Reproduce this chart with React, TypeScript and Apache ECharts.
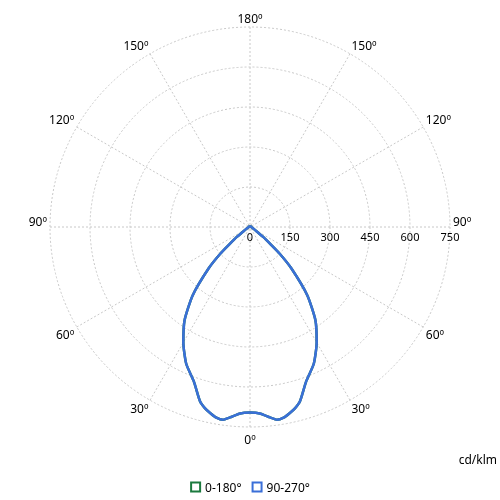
import { useEffect, useRef } from 'react'
import * as echarts from 'echarts'

// photometric angles (deg from nadir) and intensities (cd/klm)
const gammaAngles = [0, 3, 6, 8, 10, 12, 14, 16, 20, 25, 30, 35, 40, 45, 48, 50, 53, 55, 60, 65, 70, 80, 90, 120, 150, 180]
const plane0_180 = [696, 700, 718, 730, 726, 714, 700, 680, 616, 566, 500, 428, 334, 219, 150, 100, 62, 38, 20, 13, 9, 6, 5, 4, 3, 3]
const plane90_270 = [696, 700, 718, 730, 726, 714, 700, 680, 616, 566, 500, 428, 334, 219, 150, 100, 62, 38, 20, 13, 9, 6, 5, 4, 3, 3]
const seriesNames = ['0-180°', '90-270°']
const seriesColors = ['#1b7a3e', '#3a6fd8']
const radiusTicks = [0, 150, 300, 450, 600, 750]

// left half goes 180 -> 0, right half 0 -> 180
const toPolar = (values: number[]): number[][] => {
  const left = gammaAngles.map((g, i) => [values[i], 270 - g]).reverse()
  const right = gammaAngles.map((g, i) => [values[i], (g - 90 + 360) % 360])
  return [...left, ...right.slice(1)]
}

const App: React.FC = () => {
  const chartRef = useRef<HTMLDivElement>(null)

  useEffect(() => {
    if (chartRef.current === null) return
    const chart = echarts.init(chartRef.current, undefined, { renderer: 'svg' })
    const font = 'Noto Sans'
    chart.setOption({
      animation: false,
      textStyle: { fontFamily: font },
      polar: { center: ['50%', 227], radius: 200 },
      angleAxis: {
        type: 'value',
        min: 0,
        max: 360,
        interval: 30,
        startAngle: 0,
        clockwise: false,
        axisLine: { show: false },
        axisTick: { show: false },
        axisLabel: {
          color: '#000',
          fontSize: 12,
          margin: 3,
          fontFamily: font,
          formatter: (v: number) => {
            const p = (v + 90) % 360
            const d = p <= 180 ? p : 360 - p
            if (d === 90) return '{side|' + d + 'º}'
            if (d === 0) return '{low|' + d + 'º}'
            return d + 'º'
          },
          rich: {
            side: { fontSize: 12, fontFamily: font, color: '#000', padding: [0, 0, 11, 0] },
            low: { fontSize: 12, fontFamily: font, color: '#000', padding: [3, 0, 0, 0] }
          }
        },
        splitLine: { lineStyle: { color: '#c8c8c8', type: [2, 2], width: 1 } }
      },
      radiusAxis: {
        type: 'value',
        min: radiusTicks[0],
        max: radiusTicks[radiusTicks.length - 1],
        interval: radiusTicks[1] - radiusTicks[0],
        axisLine: { show: false },
        axisTick: { show: false },
        axisLabel: { color: '#000', fontSize: 11, fontFamily: font, verticalAlign: 'top', margin: -4 },
        splitLine: { lineStyle: { color: '#c8c8c8', type: [2, 2], width: 1 } }
      },
      legend: {
        left: 'center',
        top: 476,
        itemWidth: 9,
        itemHeight: 9,
        itemGap: 10,
        textStyle: { fontSize: 12, color: '#000', fontFamily: font },
        data: seriesNames.map((n, i) => ({
          name: n,
          icon: 'rect',
          itemStyle: { color: '#fff', borderColor: seriesColors[i], borderWidth: 2 }
        }))
      },
      graphic: [
        {
          type: 'text',
          right: 3,
          top: 453,
          style: { text: 'cd/klm', fontSize: 12, fill: '#000', fontFamily: font }
        }
      ],
      series: [plane0_180, plane90_270].map((vals, i) => ({
        name: seriesNames[i],
        type: 'line',
        coordinateSystem: 'polar',
        showSymbol: false,
        smooth: 0.2,
        color: seriesColors[i],
        lineStyle: { width: 2.5, color: seriesColors[i] },
        data: toPolar(vals)
      }))
    })
    return () => {
      chart.dispose()
    }
  }, [])

  return <div ref={chartRef} style={{ position: 'fixed', left: 0, top: 0, width: 500, height: 500 }}></div>
}

export default App
